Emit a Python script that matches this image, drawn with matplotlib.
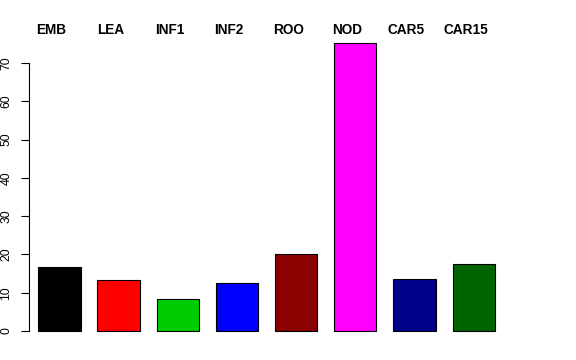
import matplotlib
matplotlib.use('Agg')
import matplotlib.pyplot as plt
import numpy as np

plt.rcParams['font.family'] = ['Liberation Sans', 'DejaVu Sans']

tissues = ['EMB', 'LEA', 'INF1', 'INF2', 'ROO', 'NOD', 'CAR5', 'CAR15']
values = [16.8, 13.3, 8.4, 12.5, 20.0, 75.2, 13.7, 17.6]
bar_colors = ['#000000', '#FF0000', '#00CD00', '#0000FF',
              '#8B0000', '#FF00FF', '#00008B', '#006400']
y_ticks = [0, 10, 20, 30, 40, 50, 60, 70]

fig = plt.figure(figsize=(5.76, 3.6), dpi=100)
ax = fig.add_axes([29 / 576, 1 - 342.5 / 360, 484 / 576, 311 / 360])

# R-style barplot spacing: width 1, space 0.4
x = 0.4 + 1.4 * np.arange(len(values)) + 0.5
ax.bar(x, values, width=1.0, color=bar_colors, edgecolor='black', linewidth=0.8)

ax.set_xlim(0.18, 11.63)
ax.set_ylim(-3.0, 78.2)

for s in ['top', 'right', 'bottom']:
    ax.spines[s].set_visible(False)
ax.spines['left'].set_bounds(0, 70)
ax.spines['left'].set_linewidth(0.8)
ax.set_xticks([])
ax.set_yticks(y_ticks)
ax.set_yticklabels([str(t) for t in y_ticks], rotation=90, va='center', fontsize=8.8)
ax.tick_params(axis='y', length=5.8, width=0.8, pad=6)

# column labels above the plot
for xi, name in zip(x, tissues):
    ax.text(xi - 0.19, 78.6, name, ha='center', va='center', fontsize=9.8,
            fontweight='bold', clip_on=False)

fig.savefig('out.png', dpi=100)
